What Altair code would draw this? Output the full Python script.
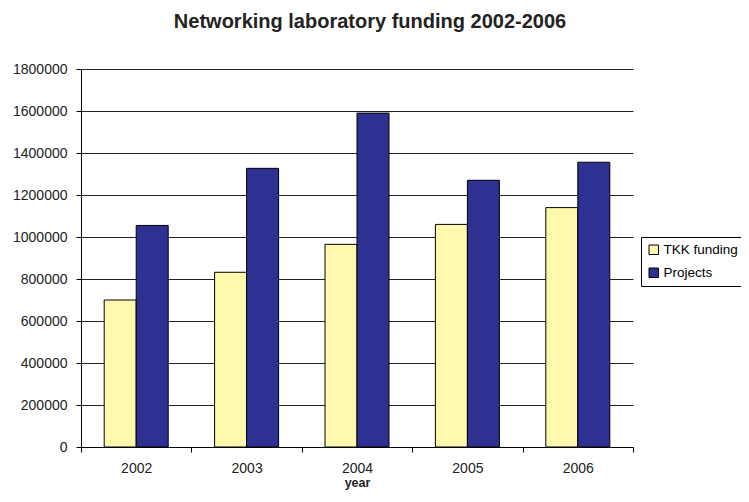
import altair as alt
import pandas as pd

years = ["2002", "2003", "2004", "2005", "2006"]
series = ["TKK funding", "Projects"]
tkk_funding = [700000, 832000, 965000, 1060000, 1140000]
projects = [1055000, 1327000, 1590000, 1270000, 1356000]
y_ticks = [0, 200000, 400000, 600000, 800000, 1000000, 1200000, 1400000, 1600000, 1800000]
colors = ["#FFF9AE", "#2E3192"]

rows = []
for i, y in enumerate(years):
    rows.append({"year": y, "series": series[0], "value": tkk_funding[i]})
    rows.append({"year": y, "series": series[1], "value": projects[i]})
df = pd.DataFrame(rows)

FONT = "Liberation Sans"

chart = alt.Chart(df).mark_bar(stroke="#000000", strokeWidth=1).encode(
    x=alt.X("year:N", sort=years,
            scale=alt.Scale(paddingInner=0, paddingOuter=0),
            axis=alt.Axis(title="year", labelAngle=0, tickBand="extent",
                          domainColor="#000000", tickColor="#000000", tickSize=5,
                          labelPadding=9, labelFontSize=14, labelColor="#222222",
                          titleFontSize=12.5, titleFontWeight="bold", titlePadding=1,
                          titleColor="#222222", labelFont=FONT, titleFont=FONT, grid=False)),
    xOffset=alt.XOffset("series:N", sort=series,
                        scale=alt.Scale(paddingInner=0, paddingOuter=0.725)),
    y=alt.Y("value:Q",
            scale=alt.Scale(domain=[0, 1800000], nice=False),
            axis=alt.Axis(title=None, values=y_ticks, format="d",
                          domainColor="#000000", tickColor="#000000", tickSize=5,
                          labelFontSize=14, labelColor="#222222", labelFont=FONT,
                          labelPadding=9,
                          grid=True, gridColor="#222222", gridWidth=1)),
    color=alt.Color("series:N", sort=series,
                    scale=alt.Scale(domain=series, range=colors),
                    legend=alt.Legend(title=None, orient="none", legendX=560, legendY=168,
                                      symbolType="square", symbolSize=90,
                                      symbolStrokeColor="#000000", symbolStrokeWidth=1,
                                      labelFontSize=13.5, labelFont=FONT, labelColor="#000000",
                                      strokeColor="#000000", padding=6, rowPadding=8,
                                      labelOffset=3)),
).properties(
    width=552,
    height=378,
    title=alt.TitleParams("Networking laboratory funding 2002-2006", fontSize=20,
                          font=FONT, fontWeight="bold", color="#222222",
                          anchor="middle", frame="group", dx=13, offset=30),
    autosize=alt.AutoSizeParams(type="none"),
    padding={"left": 73, "top": 61, "right": 108, "bottom": 46},
).configure_view(stroke=None).configure_axis(domainWidth=1)

chart.save("out.html", embed_options={"renderer": "svg", "actions": False})
